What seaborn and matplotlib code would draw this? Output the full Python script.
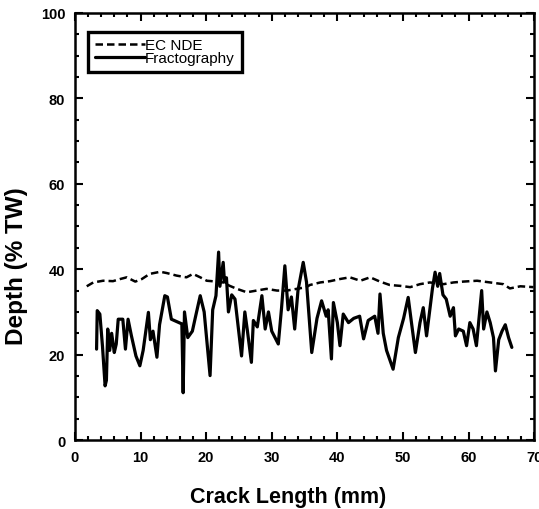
import numpy as np
import pandas as pd
import seaborn as sns
from matplotlib import pyplot as plt
from matplotlib.ticker import MultipleLocator

# EC NDE depth estimate (dashed)
ec_x = [1.8, 2.8, 4.3, 5.8, 6.9, 7.9, 9.2, 10.2, 11.4, 13.0, 14.0, 15.5, 17.0, 18.0,
        19.1, 20.1, 21.6, 22.6, 23.6, 24.7, 26.2, 27.7, 29.2, 30.8, 32.3, 33.8, 35.3,
        35.8, 37.4, 38.9, 40.4, 41.9, 43.5, 45.0, 46.5, 48.0, 49.6, 51.1, 52.6, 54.1,
        56.2, 57.7, 59.2, 61.3, 63.3, 65.3, 66.3, 67.9, 69.9]
ec_y = [36.0, 36.9, 37.3, 37.2, 37.7, 38.1, 37.1, 37.7, 38.9, 39.4, 39.1, 38.5, 38.1, 38.9,
        38.1, 37.3, 37.1, 36.9, 36.1, 35.4, 34.6, 35.0, 35.4, 35.0, 35.0, 35.4, 35.8,
        36.3, 36.9, 37.2, 37.7, 38.1, 37.3, 38.1, 37.1, 36.3, 36.1, 35.8, 36.5, 36.9,
        36.5, 36.9, 37.1, 37.3, 36.9, 36.5, 35.5, 36.0, 35.8]

# Fractography depth profile (solid)
fr_x = [3.3, 3.4, 3.8, 4.2, 4.6, 4.8, 5.0, 5.3, 5.6, 6.0, 6.3, 6.6, 7.3, 7.7, 8.1, 8.6,
        9.3, 9.9, 10.4, 11.2, 11.5, 11.9, 12.5, 12.9, 13.7, 14.1, 14.7, 16.3, 16.5, 16.7,
        17.2, 17.9, 18.4, 19.1, 19.7, 20.6, 21.0, 21.5, 21.9, 22.1, 22.6, 22.8, 23.1, 23.4,
        23.9, 24.4, 25.4, 25.9, 26.3, 26.9, 27.2, 27.8, 28.5, 29.0, 29.5, 30.0, 31.0, 31.5,
        32.0, 32.5, 33.0, 33.5, 34.0, 34.8, 35.3, 36.1, 36.9, 37.6, 38.3, 38.6, 39.1, 39.4,
        40.0, 40.4, 40.9, 41.7, 42.5, 43.4, 44.0, 44.7, 45.7, 46.2, 46.5, 47.0, 47.5, 48.5,
        49.3, 50.1, 50.8, 51.3, 51.9, 52.6, 53.1, 53.6, 54.5, 54.9, 55.3, 55.6, 56.1, 56.6,
        57.2, 57.7, 58.0, 58.5, 59.2, 59.7, 60.2, 60.7, 61.2, 62.0, 62.3, 62.8, 63.3, 63.8,
        64.1, 64.6, 65.1, 65.6, 66.1, 66.6]
fr_y = [21.3, 30.3, 29.5, 22.0, 12.7, 14.0, 26.0, 21.0, 25.0, 20.5, 22.5, 28.3, 28.3, 21.3,
        28.3, 24.5, 19.7, 17.4, 21.0, 29.9, 23.5, 25.5, 19.4, 27.0, 33.8, 33.5, 28.3, 27.2,
        11.1, 30.0, 24.0, 25.5, 29.0, 33.8, 30.0, 15.1, 30.5, 33.8, 44.0, 36.0, 41.6, 37.0,
        38.0, 30.0, 34.0, 33.0, 19.7, 30.0, 25.5, 18.2, 28.0, 26.5, 33.8, 26.0, 30.0, 25.5,
        22.5, 31.0, 40.8, 30.5, 33.5, 26.0, 35.0, 41.6, 37.0, 20.5, 28.5, 32.6, 29.0, 30.5,
        19.0, 32.2, 27.5, 22.1, 29.5, 27.5, 28.5, 29.0, 23.7, 28.0, 29.0, 25.0, 34.2, 25.0,
        21.0, 16.6, 24.0, 28.5, 33.4, 27.5, 20.5, 27.5, 31.0, 24.4, 35.5, 39.3, 36.0, 39.0,
        34.0, 33.0, 29.0, 31.0, 24.4, 26.0, 25.5, 22.1, 27.5, 26.0, 22.1, 35.0, 26.0, 30.0,
        27.5, 24.0, 16.2, 23.5, 25.5, 27.0, 24.0, 21.7]

ec_df = pd.DataFrame({"length": ec_x, "depth": ec_y})
fr_df = pd.DataFrame({"length": fr_x, "depth": fr_y})

sns.set_style("ticks")
plt.rcParams["font.family"] = ["Liberation Sans", "DejaVu Sans"]
plt.rcParams["text.color"] = "black"
plt.rcParams["axes.labelcolor"] = "black"

fig = plt.figure(figsize=(5.39, 5.10), dpi=100)
ax = fig.add_axes([0.139, 0.135, 0.852, 0.838])

sns.lineplot(data=ec_df, x="length", y="depth", sort=False, estimator=None,
             color="black", lw=1.8, ax=ax, label="EC NDE")
ax.lines[-1].set_dashes([3, 1.6])
sns.lineplot(data=fr_df, x="length", y="depth", sort=False, estimator=None,
             color="black", lw=2.3, ax=ax, label="Fractography")

ax.set_xlim(0, 70)
ax.set_ylim(0, 100)
ax.xaxis.set_major_locator(MultipleLocator(10))
ax.xaxis.set_minor_locator(MultipleLocator(2))
ax.yaxis.set_major_locator(MultipleLocator(20))
ax.yaxis.set_minor_locator(MultipleLocator(5))
ax.tick_params(which="both", direction="in", top=True, right=True, width=1.5,
               labelsize=10.5, pad=7, colors="black")
ax.tick_params(which="major", length=6)
ax.tick_params(which="minor", length=3)
for lab in ax.get_xticklabels() + ax.get_yticklabels():
    lab.set_fontweight("bold")
for sp in ax.spines.values():
    sp.set_linewidth(1.8)
    sp.set_color("black")

ax.set_xlabel("Crack Length (mm)", fontsize=15.5, fontweight="bold")
ax.set_ylabel("Depth (% TW)", fontsize=17.5, fontweight="bold")
ax.xaxis.set_label_coords(0.464, -0.108)
ax.yaxis.set_label_coords(-0.103, 0.41)

leg = ax.legend(loc="upper left", bbox_to_anchor=(0.028, 0.956), fancybox=False,
                framealpha=1, edgecolor="black", fontsize=11, handlelength=3.3,
                handletextpad=0.0, borderpad=0.45, labelspacing=-0.1, borderaxespad=0)
leg.get_frame().set_linewidth(2.4)

fig.savefig("out.png", dpi=100)
plt.close(fig)
